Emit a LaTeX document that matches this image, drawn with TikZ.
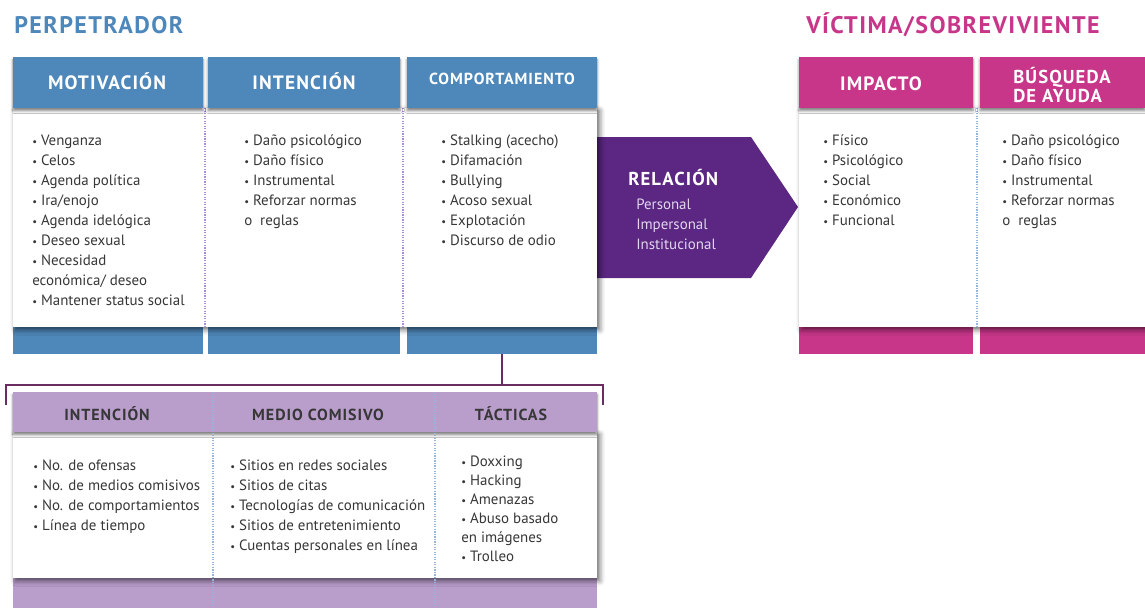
\documentclass[tikz,border=0pt]{standalone}
\usepackage{fontspec}
\setmainfont{PT Sans}
\newfontfamily\capsfont[LetterSpace=6]{PT Sans}
\usepackage{tikz}
\usetikzlibrary{fit, shadows.blur}

\definecolor{perpblue}{RGB}{78,135,185}
\definecolor{victpink}{RGB}{200,54,138}
\definecolor{relpurple}{RGB}{91,39,130}
\definecolor{relpale}{RGB}{226,214,240}
\definecolor{lavender}{RGB}{185,157,203}
\definecolor{plum}{RGB}{104,46,98}
\definecolor{txtgray}{RGB}{55,55,55}
\definecolor{dotviolet}{RGB}{170,140,215}
\definecolor{dotblue}{RGB}{150,180,220}

\newcommand{\bul}{\strut{\footnotesize\textbullet}\ }

\tikzset{
  box/.style={inner sep=0, outer sep=0},
  panel/.style={box, fill=white, blur shadow={shadow xshift=2pt, shadow yshift=-2pt, shadow blur radius=4pt, shadow opacity=60}},
  head/.style={box, blur shadow={shadow xshift=0pt, shadow yshift=-2pt, shadow blur radius=2pt, shadow opacity=50}},
  headtext/.style={inner sep=0, text=white, font=\capsfont\bfseries\fontsize{14.5}{15}\selectfont},
  subhead/.style={anchor=base, inner sep=0, text=txtgray, font=\capsfont\bfseries\fontsize{12}{13}\selectfont},
  items/.style={anchor=north west, inner sep=0, align=left, text=txtgray, font=\fontsize{11.2}{15}\selectfont},
  title/.style={anchor=west, inner sep=0, font=\capsfont\bfseries\fontsize{18}{20}\selectfont},
  sepline/.style={densely dotted, line width=0.9pt},
  bracket/.style={plum, line width=1.6pt}
}

\begin{document}
\begin{tikzpicture}[x=0.75pt, y=-0.75pt]
\useasboundingbox (0,0) rectangle (1145,607);

\node[title, text=perpblue] (perp) at (14,25) {PERPETRADOR};
\node[title, text=victpink] (vict) at (806,25) {VÍCTIMA/SOBREVIVIENTE};

\fill[relpurple] (597,137) -- (751,137) -- (798,207) -- (751,278) -- (597,278) -- cycle;
\node[anchor=west, inner sep=0, text=white, font=\capsfont\bfseries\fontsize{14}{15}\selectfont] (rel) at (628,178) {RELACIÓN};
\node[items, text=relpale] (rellist) at (636,195) {\strut Personal\\Impersonal\\Institucional};

\foreach \a/\b/\n in {13/203/motbar, 208/400/intbar, 407/597/compbar}
  \node[box, fill=perpblue, fit={(\a,327) (\b,354)}] (\n) {};
\node[panel, fit={(13,108) (597,327)}] (perppanel) {};
\foreach \x in {205,403} \draw[sepline, dotviolet] (\x,108) -- (\x,327);
\node[head, fill=perpblue, fit={(13,57) (203,108)}] (motiv) {};
\node[head, fill=perpblue, fit={(208,57) (400,108)}] (inten) {};
\node[head, fill=perpblue, fit={(407,57) (597,108)}] (compor) {};
\node[headtext] (motivtxt) at (107,81) {MOTIVACIÓN};
\node[headtext] (intentxt) at (304,81) {INTENCIÓN};
\node[headtext, font=\capsfont\bfseries\fontsize{12}{13}\selectfont] (compotxt) at (502,79) {COMPORTAMIENTO};

\node[items] (motlist) at (32,131) {\bul Venganza\\ \bul Celos\\ \bul Agenda política\\ \bul Ira/enojo\\ \bul Agenda idelógica\\ \bul Deseo sexual\\ \bul Necesidad\\ económica/ deseo\\ \bul Mantener status social};
\node[items] (intlist) at (244,131) {\bul Daño psicológico\\ \bul Daño físico\\ \bul Instrumental\\ \bul Reforzar normas\\ o\ \ reglas};
\node[items] (complist) at (441,131) {\bul Stalking (acecho)\\ \bul Difamación\\ \bul Bullying\\ \bul Acoso sexual\\ \bul Explotación\\ \bul Discurso de odio};

\foreach \a/\b/\n in {799/973/impbar, 980/1145/ayubar}
  \node[box, fill=victpink, fit={(\a,327) (\b,354)}] (\n) {};
\node[panel, fit={(799,108) (1145,327)}] (victpanel) {};
\draw[sepline, dotblue] (977,108) -- (977,327);
\node[head, fill=victpink, fit={(799,57) (973,108)}] (impac) {};
\node[head, fill=victpink, fit={(980,57) (1145,108)}] (ayuda) {};
\node[headtext] (impactxt) at (881,84) {IMPACTO};
\node[headtext, anchor=west, align=left, font=\capsfont\bfseries\fontsize{14}{13.8}\selectfont] (ayudatxt) at (1013,85) {BÚSQUEDA\\DE AYUDA};

\node[items] (implist) at (823,131) {\bul Físico\\ \bul Psicológico\\ \bul Social\\ \bul Económico\\ \bul Funcional};
\node[items] (ayulist) at (1002,131) {\bul Daño psicológico\\ \bul Daño físico\\ \bul Instrumental\\ \bul Reforzar normas\\ o\ \ reglas};

\node[box, fill=lavender, fit={(13,578) (597,612)}] (tabbar) {};
\node[panel, fit={(13,432) (597,578)}] (tabpanel) {};
\node[head, fill=lavender, fit={(13,392) (597,432)}] (tabhead) {};
\foreach \x in {213,435} \draw[sepline, dotblue] (\x,392) -- (\x,607);

\node[subhead] (tabint) at (107,420) {INTENCIÓN};
\node[subhead] (tabmed) at (318,420) {MEDIO COMISIVO};
\node[subhead] (tabtac) at (511,420) {TÁCTICAS};

\node[items] (intitems) at (33,456) {\bul No. de ofensas\\ \bul No. de medios comisivos\\ \bul No. de comportamientos\\ \bul Línea de tiempo};
\node[items] (meditems) at (230,456) {\bul Sitios en redes sociales\\ \bul Sitios de citas\\ \bul Tecnologías de comunicación\\ \bul Sitios de entretenimiento\\ \bul Cuentas personales en línea};
\node[items, font=\fontsize{11.2}{14.3}\selectfont] (tacitems) at (461,453) {\bul Doxxing\\ \bul Hacking\\ \bul Amenazas\\ \bul Abuso basado\\ en imágenes\\ \bul Trolleo};

\coordinate (brL) at (6,405);
\coordinate (brR) at (603,405);
\coordinate (brY) at (0,385);
\draw[bracket] (compbar.south) -- (compbar.south |- brY);
\draw[bracket] (brL) |- (brY -| brR) -- (brR);
\end{tikzpicture}
\end{document}
